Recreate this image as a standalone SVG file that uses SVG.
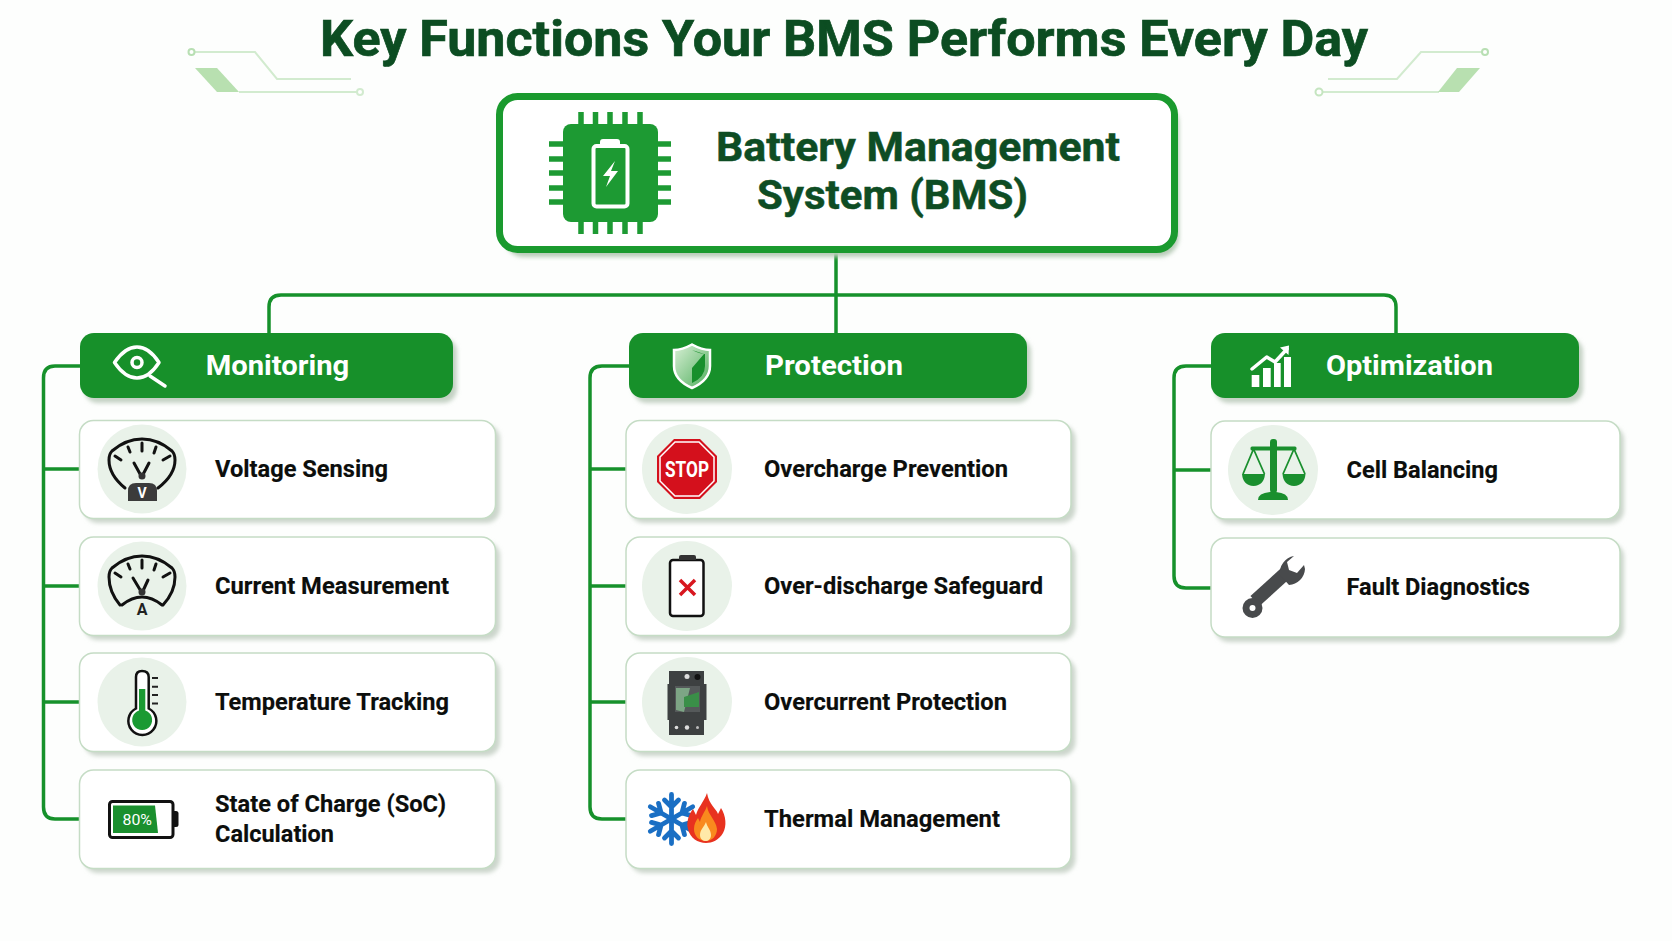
<svg xmlns="http://www.w3.org/2000/svg" width="1672" height="941" viewBox="0 0 1672 941">
<style>
text{font-family:"Roboto","Liberation Sans",sans-serif}
.title{font-size:49.500px;font-weight:700;fill:#0c4d22;stroke:#0c4d22;stroke-width:.7px}
.main{font-size:40.500px;font-weight:700;fill:#0e4d24;stroke:#0e4d24;stroke-width:.5px}
.hd{font-size:27px;font-weight:700;fill:#fff}
.lb{font-size:23.500px;font-weight:700;fill:#0c0e0c;stroke:#0c0e0c;stroke-width:.15px}
.card{fill:#fff;stroke:#c5dcc5;stroke-width:1.5}
.cs{fill:#ccd6cc;filter:url(#b2)}
.hs{fill:#c4d2c4;filter:url(#b2)}
.head{fill:#17902a}
.disc{fill:#e9f2e9}
.conn{fill:none;stroke:#16912b;stroke-width:3.5}
.deco{fill:none;stroke:#d2ebcf;stroke-width:2}
.ln{fill:none;stroke:#111;stroke-width:3;stroke-linecap:round;stroke-linejoin:round}
.wl{fill:none;stroke:#fff;stroke-width:3.500;stroke-linecap:round;stroke-linejoin:round}
</style>
<defs>
<filter id="b2" x="-10%" y="-20%" width="120%" height="140%"><feGaussianBlur stdDeviation="2"/></filter>
<linearGradient id="shield" x1="0" y1="0" x2="1" y2="1"><stop offset="0" stop-color="#d9f0d6"/><stop offset="1" stop-color="#4fae5c"/></linearGradient>
<g id="arm"><path d="M0 0V-24.500M0 -12L-7 -19M0 -12L7 -19" fill="none" stroke="#1a6fc4" stroke-width="4.800" stroke-linecap="round"/></g>
<g id="ticks"><path class="ln" d="M115 456L121 460M128 447L130 452M142 443V451M156 447L154 453M170 456L163 460"/></g>
</defs>
<rect width="1672" height="941" fill="#fdfefd"/>

<g id="decor">
<path class="deco" d="M194 52H255L277 79H351M239 92H357"/>
<circle cx="191.500" cy="52" r="3" fill="#fff" stroke="#b8dfb3" stroke-width="2"/>
<circle cx="360" cy="92" r="3" fill="#fff" stroke="#d2ebcf" stroke-width="2"/>
<path d="M195 68H217L239 92H217Z" fill="#b8e0b0"/>
<path class="deco" d="M1482 52H1421L1397 79H1328M1322 92H1439"/>
<circle cx="1485" cy="52" r="3" fill="#fff" stroke="#b8dfb3" stroke-width="2"/>
<circle cx="1319" cy="92" r="3.500" fill="#fff" stroke="#c5e5c0" stroke-width="2"/>
<path d="M1457 68H1480L1459 92H1438Z" fill="#b8e0b0"/>
</g>

<text class="title" x="320" y="55.500" textLength="1048" lengthAdjust="spacingAndGlyphs">Key Functions Your BMS Performs Every Day</text>

<g id="connectors">
<path class="conn" d="M836 253V335"/>
<path class="conn" d="M269 335V307Q269 295 281 295H1384Q1396 295 1396 307V335"/>
<path class="conn" d="M80 366H55Q43.500 366 43.500 378V807Q43.500 819 55 819H80M43.500 469H80M43.500 586H80M43.500 702H80"/>
<path class="conn" d="M629 366H602Q590 366 590 378V807Q590 819 602 819H626M590 469H626M590 586H626M590 702H626"/>
<path class="conn" d="M1211 366H1186Q1174 366 1174 378V576Q1174 588 1186 588H1211M1174 470H1211"/>
</g>

<g id="node-bms">
<rect x="504" y="103" width="675" height="154" rx="20" fill="#b8ccb8" filter="url(#b2)"/>
<rect x="499.500" y="96.500" width="675" height="153" rx="18" fill="#fff" stroke="#1a9a2e" stroke-width="7"/>
<g fill="#1d9a33">
<rect x="563" y="124" width="95" height="98" rx="8"/>
<path d="M581 124V112M595.500 124V112M610 124V112M625 124V112M640 124V112M581 234V222M595.500 234V222M610 234V222M625 234V222M640 234V222M549 144H563M549 159H563M549 173H563M549 188H563M549 202H563M658 144H671M658 159H671M658 173H671M658 188H671M658 202H671" fill="none" stroke="#1d9a33" stroke-width="5.500"/>
</g>
<rect x="593.500" y="146" width="34" height="60.500" rx="3" fill="#1d9a33" stroke="#fff" stroke-width="4"/>
<path d="M600 146V142Q600 139 603 139H617Q620 139 620 142V146Z" fill="#fff"/>
<path d="M615 161L603 176H610L606 187L618 171H611Z" fill="#fff"/>
<text class="main" x="716" y="161" textLength="404" lengthAdjust="spacingAndGlyphs">Battery Management</text>
<text class="main" x="757" y="209" textLength="271" lengthAdjust="spacingAndGlyphs">System (BMS)</text>
</g>

<g id="head-monitoring">
<rect class="hs" x="84" y="338" width="373" height="65" rx="14"/>
<rect class="head" x="80" y="333" width="373" height="65" rx="14"/>
<path class="wl" d="M114.500 362.500Q125 347 137 347Q149 347 159 362.500Q149 378 137 378Q125 378 114.500 362.500Z"/>
<circle class="wl" cx="137" cy="362.500" r="5"/>
<path class="wl" d="M150 376L165 386" stroke-width="4.500"/>
<text class="hd" x="205.700" y="375" textLength="143.500" lengthAdjust="spacingAndGlyphs">Monitoring</text>
</g>
<g id="head-protection">
<rect class="hs" x="633" y="338" width="398" height="65" rx="14"/>
<rect class="head" x="629" y="333" width="398" height="65" rx="14"/>
<path d="M692 344.500Q682 350 674 350V366Q674 380 692 388Q710 380 710 366V350Q702 350 692 344.500Z" fill="url(#shield)" stroke="#fff" stroke-width="2.500"/>
<path d="M692 350Q700 354 705 354V366Q705 377 692 383V368L704 354Z" fill="#178f2c"/>
<text class="hd" x="765" y="375" textLength="138" lengthAdjust="spacingAndGlyphs">Protection</text>
</g>
<g id="head-optimization">
<rect class="hs" x="1215" y="338" width="368" height="65" rx="14"/>
<rect class="head" x="1211" y="333" width="368" height="65" rx="14"/>
<path d="M1251.700 375H1259.300V387H1251.700ZM1263 368H1270.700V387H1263ZM1274 363H1280.700V387H1274ZM1284 357H1291V387H1284Z" fill="#fff"/>
<path class="wl" d="M1252 369L1266.700 357L1275 362L1287 349" stroke-width="3"/>
<path d="M1280 347.500L1289 345.500L1288.500 355Z" fill="#fff"/>
<text class="hd" x="1326" y="375" textLength="167" lengthAdjust="spacingAndGlyphs">Optimization</text>
</g>

<g id="card-voltage">
<rect class="cs" x="84" y="425" width="416" height="98" rx="14"/>
<rect class="card" x="79.500" y="420.500" width="416" height="98" rx="14"/>
<circle class="disc" cx="142" cy="469" r="44.500"/>
<path class="ln" d="M125 488Q109 475 109 460Q109 454 112 451Q126 439 142 439Q158 439 172 451Q175 454 175 460Q175 475 158 488"/>
<use href="#ticks"/>
<path class="ln" d="M134 463L141.700 477L149 463"/>
<circle cx="142" cy="476" r="3.500" fill="#333"/>
<path d="M128 501V491Q128 483 136 483H149Q157 483 157 491V501Z" fill="#3b3b3b"/>
<text x="142" y="498" text-anchor="middle" font-size="14" font-weight="700" fill="#fff">V</text>
<text class="lb" x="215" y="476.500" textLength="173" lengthAdjust="spacingAndGlyphs">Voltage Sensing</text>
</g>
<g id="card-current">
<rect class="cs" x="84" y="542" width="416" height="98" rx="14"/>
<rect class="card" x="79.500" y="537" width="416" height="98.500" rx="14"/>
<circle class="disc" cx="142" cy="586" r="44.500"/>
<path class="ln" d="M120 605Q109 592 109 577Q109 571 112 568Q126 556 142 556Q158 556 172 568Q175 571 175 577Q175 592 163 605"/>
<path class="ln" d="M122 605Q142 589 162 605" stroke-width="2.500"/>
<use href="#ticks" y="117"/>
<path class="ln" d="M133 578L142 593L148 580"/>
<circle cx="142" cy="592" r="3.500" fill="#333"/>
<text x="142" y="615" text-anchor="middle" font-size="16" font-weight="700" fill="#222">A</text>
<text class="lb" x="215" y="593.500" textLength="234" lengthAdjust="spacingAndGlyphs">Current Measurement</text>
</g>
<g id="card-temperature">
<rect class="cs" x="84" y="658" width="416" height="98" rx="14"/>
<rect class="card" x="79.500" y="653" width="416" height="98.500" rx="14"/>
<circle class="disc" cx="142" cy="702" r="44.500"/>
<path d="M136 708.500V677Q136 671 142 671Q148.700 671 148.700 677V708.500A14 14 0 1 1 136 708.500Z" fill="#fff" stroke="#111" stroke-width="2.500"/>
<path d="M139 689H145.300V710.500A10 10 0 1 1 139 710.500Z" fill="#1a9a33"/>
<path d="M152 678H158M152 686.700H158M152 695H158M152 703.500H158" stroke="#222" stroke-width="2" fill="none"/>
<text class="lb" x="215" y="709.500" textLength="234" lengthAdjust="spacingAndGlyphs">Temperature Tracking</text>
</g>
<g id="card-soc">
<rect class="cs" x="84" y="775" width="416" height="98" rx="14"/>
<rect class="card" x="79.500" y="770" width="416" height="98.500" rx="14"/>
<rect x="109.500" y="801.500" width="63.500" height="36" rx="3" fill="#fff" stroke="#111" stroke-width="3"/>
<path d="M174 811H176Q178.500 811 178.500 813.500V824.500Q178.500 827 176 827H174Z" fill="#111"/>
<path d="M113 805.500H155L158 833H113Z" fill="#1a8f2e"/>
<text x="122.500" y="825" font-size="15.500" fill="#fff" textLength="29.500" lengthAdjust="spacingAndGlyphs">80%</text>
<text class="lb" x="215" y="812" textLength="231" lengthAdjust="spacingAndGlyphs">State of Charge (SoC)</text>
<text class="lb" x="215" y="841.500" textLength="119" lengthAdjust="spacingAndGlyphs">Calculation</text>
</g>

<g id="card-overcharge">
<rect class="cs" x="630" y="425" width="445.500" height="98" rx="14"/>
<rect class="card" x="626" y="420.500" width="445" height="98" rx="14"/>
<circle class="disc" cx="687" cy="469" r="45"/>
<path d="M674 439H700L717 456V482L700 499H674L657 482V456Z" fill="#d4101c"/>
<path d="M675 442H699L714 457V481L699 496H675L660 481V457Z" fill="none" stroke="#fff" stroke-width="1.500"/>
<text x="665" y="476.500" font-size="22" font-weight="700" fill="#fff" textLength="44" lengthAdjust="spacingAndGlyphs">STOP</text>
<text class="lb" x="764" y="476.500" textLength="244" lengthAdjust="spacingAndGlyphs">Overcharge Prevention</text>
</g>
<g id="card-overdischarge">
<rect class="cs" x="630" y="542" width="445.500" height="98" rx="14"/>
<rect class="card" x="626" y="537" width="445" height="98.500" rx="14"/>
<circle class="disc" cx="687" cy="586" r="45"/>
<rect x="670" y="560" width="33.500" height="56" rx="3" fill="#fff" stroke="#111" stroke-width="2.500"/>
<path d="M679 560V557Q679 555 681 555H694Q696 555 696 557V560Z" fill="#333"/>
<path d="M680 580L695 595M695 580L680 595" stroke="#d8171f" stroke-width="3.500" fill="none"/>
<text class="lb" x="764" y="593.500" textLength="279" lengthAdjust="spacingAndGlyphs">Over-discharge Safeguard</text>
</g>
<g id="card-overcurrent">
<rect class="cs" x="630" y="658" width="445.500" height="98" rx="14"/>
<rect class="card" x="626" y="653" width="445" height="98.500" rx="14"/>
<circle class="disc" cx="687" cy="702" r="45"/>
<path d="M669 671H704V684H706.500V720H704V735H669V720H667.500V684H669Z" fill="#3d4041"/>
<path d="M675 686H700V712H675Z" fill="#55595a"/>
<path d="M676 688H690L684 712L676 710Z" fill="#7da585"/>
<path d="M684 697L699 692V707H684Z" fill="#3a8f48"/>
<circle cx="687" cy="676.500" r="2.500" fill="#ddd"/>
<circle cx="697.500" cy="677" r="3" fill="#111"/>
<circle cx="676.500" cy="727.500" r="1.800" fill="#ddd"/>
<circle cx="687" cy="727.500" r="2.200" fill="#ddd"/>
<circle cx="697.500" cy="727.500" r="1.500" fill="#bbb"/>
<text class="lb" x="764" y="709.500" textLength="243" lengthAdjust="spacingAndGlyphs">Overcurrent Protection</text>
</g>
<g id="card-thermal">
<rect class="cs" x="630" y="775" width="445.500" height="98" rx="14"/>
<rect class="card" x="626" y="770" width="445" height="98.500" rx="14"/>
<g transform="translate(671.500 819)">
<use href="#arm"/><use href="#arm" transform="rotate(60)"/><use href="#arm" transform="rotate(120)"/><use href="#arm" transform="rotate(180)"/><use href="#arm" transform="rotate(240)"/><use href="#arm" transform="rotate(300)"/>
</g>
<path d="M707 793C709 805 716 808 718 814L721 808C726 816 727 826 723 833C719 840 712 843 706 843C698 843 690 838 688 829C686 822 689 814 693 809L696 815C698 807 704 802 707 793Z" fill="#e8321f"/>
<path d="M707 806C708 815 716 820 717 829C717 836 712 841 706 841C699 841 694 836 694 829C694 824 696 821 698 818L700 822C701 816 705 812 707 806Z" fill="#f98a1e"/>
<path d="M706 822C707 827 711 830 711 835C711 839 708 841 706 841C703 841 700 839 700 835C700 830 704 827 706 822Z" fill="#ffe9a8"/>
<text class="lb" x="764" y="826.500" textLength="236" lengthAdjust="spacingAndGlyphs">Thermal Management</text>
</g>

<g id="card-balancing">
<rect class="cs" x="1215" y="426" width="409" height="98" rx="14"/>
<rect class="card" x="1211" y="421" width="409" height="98" rx="14"/>
<circle class="disc" cx="1273" cy="470" r="45"/>
<g fill="#1a8f2e">
<rect x="1270" y="439" width="7" height="54" rx="3"/>
<rect x="1250.500" y="446.500" width="46" height="4" rx="1.500"/>
<path d="M1258 500Q1258 493 1270 492H1276Q1288 493 1288 500Z"/>
<path d="M1242 474H1265Q1264 485.500 1253.500 486Q1243 485.500 1242 474Z"/>
<path d="M1282.500 474H1305.500Q1304.500 485.500 1294 486Q1283.500 485.500 1282.500 474Z"/>
<path d="M1253.500 449L1243 474M1253.500 449L1264.500 474M1294 449L1283 474M1294 449L1305 474" fill="none" stroke="#1a8f2e" stroke-width="1.800"/>
</g>
<text class="lb" x="1346.500" y="477.500" textLength="151.500" lengthAdjust="spacingAndGlyphs">Cell Balancing</text>
</g>
<g id="card-fault">
<rect class="cs" x="1215" y="543" width="409" height="99" rx="14"/>
<rect class="card" x="1211" y="538" width="409" height="99" rx="14"/>
<path d="M1255 601L1288 571" stroke="#484a4c" stroke-width="13.500" fill="none"/>
<circle cx="1252.500" cy="608" r="10" fill="#484a4c"/>
<circle cx="1252.500" cy="608" r="3" fill="#fff"/>
<path d="M1294 556A17 17 0 0 0 1280 575L1289 585A17 17 0 0 0 1305 569L1304 565L1297 573L1289 570L1287 562Z" fill="#484a4c"/>
<text class="lb" x="1346.500" y="594.500" textLength="183.500" lengthAdjust="spacingAndGlyphs">Fault Diagnostics</text>
</g>
</svg>
